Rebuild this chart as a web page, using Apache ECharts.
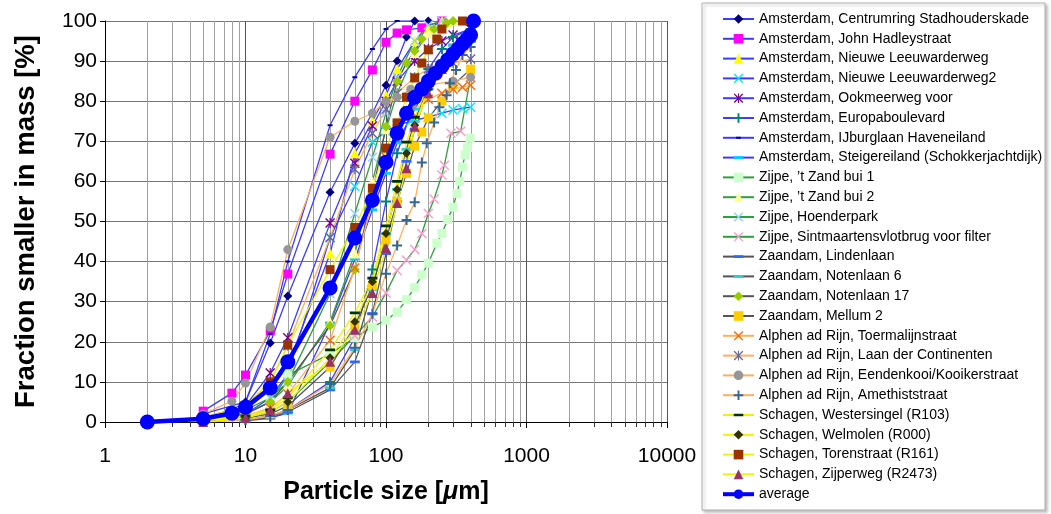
<!DOCTYPE html>
<html>
<head>
<meta charset="utf-8">
<script src="https://cdn.jsdelivr.net/npm/echarts@6/dist/echarts.min.js"></script>
<style>
  html, body { margin: 0; padding: 0; background: #fff; }
  #chart { width: 1051px; height: 514px; }
</style>
</head>
<body>
<div id="chart"></div>
<script>
// Cumulative particle size distributions: [particle size µm, fraction smaller in mass %]
const centrumring   = [[5,1],[8,3],[10,5],[15,19.7],[20,31.4],[40,57.3],[60,69.5],[80,77],[100,84],[120,90],[140,96],[160,100],[200,100]];
const johnHadley    = [[5,2.7],[8,7.2],[10,11.7],[15,22.7],[20,36.9],[40,66.8],[60,80],[80,87.8],[100,94.7],[120,97],[140,97.8],[180,98.3],[250,100]];
const nieuweLeeuw   = [[5,1],[10,3],[15,8],[20,14],[40,42],[60,67],[80,75],[100,81.5],[120,88],[160,95],[200,98],[250,100]];
const nieuweLeeuw2  = [[5,0.5],[10,2],[15,6],[20,12],[40,46],[60,58.8],[80,69.8],[100,72.5],[120,74],[150,75],[200,76],[250,77],[300,77.8],[350,78.2],[400,78.5]];
const ookmeerweg    = [[5,1],[10,4],[15,12.2],[20,21],[40,49.6],[60,64.5],[80,73.8],[100,80],[120,85],[160,90],[200,93],[250,95],[300,96.5],[400,98]];
const europaboul    = [[10,0.5],[15,1.2],[20,3],[40,10],[60,21],[80,38],[100,55],[120,67],[160,80],[200,88],[250,93],[300,96],[400,98]];
const ijburglaan    = [[5,2],[10,5],[15,22],[20,40],[40,74],[60,86],[80,93],[100,98],[120,100],[160,100]];
const steigereiland = [[10,0.5],[15,1],[20,2.2],[40,24.7],[60,40.6],[80,52.9],[100,62],[120,69.6],[160,78],[200,84],[250,88],[300,92],[400,95]];
const zandBui1      = [[5,0.5],[10,2],[15,5],[20,11.7],[40,17],[60,21],[80,23.7],[100,25.4],[120,27.4],[140,30.5],[160,33.5],[180,36.7],[200,39.6],[230,44.6],[250,47],[275,50.5],[300,53.6],[320,57],[335,60],[350,63.6],[365,66.6],[380,68.5],[397,70.8]];
const zandBui2      = [[5,0.5],[10,2],[15,5],[20,9],[40,25],[60,42],[80,60],[100,73],[120,82],[160,92],[200,97],[250,99],[300,100]];
const hoenderpark   = [[5,1],[10,3],[15,6],[20,10],[40,32],[60,52],[80,66],[100,77],[120,86],[160,95],[200,99],[250,100]];
const sintmaartens  = [[5,0.3],[10,1],[15,2.5],[20,5],[40,15],[60,21.5],[80,26.2],[100,32.2],[120,37.8],[140,40.4],[160,43],[180,47],[200,52],[220,55.6],[250,61.6],[260,64],[290,72],[340,72.5],[400,86]];
const lindenlaan    = [[10,0.3],[15,1],[20,2.5],[40,8],[60,15],[80,27],[100,42],[120,55],[140,65],[160,73],[200,83],[250,90],[300,94],[400,97]];
const notenlaan6    = [[10,0.5],[15,1.5],[20,3],[40,8.5],[60,18],[80,33],[100,47],[120,58],[140,68],[160,75],[200,84],[250,90],[300,94],[400,97]];
const notenlaan17   = [[5,0.5],[10,2],[15,5],[20,10],[40,24],[60,38],[80,57],[100,73.7],[120,85],[140,89.5],[160,92.5],[180,95.5],[220,98],[270,99.5],[300,100]];
const mellum2       = [[5,0.3],[10,1],[15,2],[20,4],[40,13.7],[60,24],[80,34],[100,45.4],[120,55],[140,62],[160,68.8],[180,72.3],[200,75.8],[250,80],[300,84],[400,88]];
const toermalijn    = [[5,0.5],[10,1.5],[15,3.5],[20,7],[40,20.4],[60,38.4],[80,55],[100,66],[120,73],[150,77.5],[200,80.5],[250,82],[300,83],[350,83.5],[400,84]];
const laanContinent = [[5,1],[10,4],[15,10],[20,19],[40,46],[60,63],[80,72],[100,78],[120,82],[160,86],[200,88],[300,89.5],[400,90.5]];
const eendenkooi    = [[5,2],[8,5.2],[10,9.7],[15,23.7],[20,43],[40,71],[60,75],[80,77],[100,80],[120,81],[150,83],[200,84],[300,85],[400,86]];
const amethist      = [[5,0],[10,0.5],[15,1.5],[20,3],[40,9.5],[60,18.5],[80,27],[100,37],[120,44],[140,50.4],[160,54.8],[180,64.7],[195,69.5],[220,74.7],[240,78.5],[270,81.5],[285,84.5],[315,87.8],[350,91.5],[400,93.5]];
const westersingel  = [[5,0.5],[10,1.5],[15,3],[20,6],[40,18],[60,27.2],[80,35.9],[100,48.9],[120,60],[140,69.8],[160,76],[200,84],[250,89],[300,92],[400,95]];
const welmolen      = [[5,0.5],[10,1],[15,2.5],[20,5],[40,16],[60,25],[80,35],[100,47],[120,58],[140,67],[160,74],[200,83],[250,88],[300,92],[400,96]];
const torenstraat   = [[5,1],[10,4],[15,10],[20,19.2],[40,38],[60,48.5],[80,58.3],[100,68.3],[120,74.6],[140,81],[160,85.8],[180,89.5],[200,92.8],[230,95.5],[250,98],[350,100]];
const zijperweg     = [[5,0],[10,1],[15,3],[20,7.2],[40,15],[60,23],[80,32.2],[100,43.4],[120,54.6],[140,63.3],[160,73.6],[200,82],[250,88],[300,92],[400,96]];
const average       = [[2,0],[5,0.8],[8,2.2],[10,3.7],[15,8.5],[20,15],[40,33.4],[60,45.9],[80,55.3],[100,64.8],[120,72],[140,77],[160,81],[180,83],[200,85],[225,87],[250,88.7],[275,90.3],[300,91.8],[325,93],[350,94.3],[375,95.4],[400,96.5],[420,100]];

const xTickLabels = ['1', '10', '100', '1000', '10000'];
const yTickStep = 10;

// Marker shapes; the dash shapes carry hairline corner specks so their
// bounding box stays square and the bar keeps its flat proportions.
const SYM = {
  diamond: 'diamond',
  square: 'rect',
  triangle: 'triangle',
  circle: 'circle',
  cross: 'path://M1,0L5,4L9,0L10,1L6,5L10,9L9,10L5,6L1,10L0,9L4,5L0,1Z',
  star: 'path://M1,0L5,4L9,0L10,1L6,5L10,9L9,10L5,6L1,10L0,9L4,5L0,1ZM4.4,0H5.6V10H4.4Z',
  plus: 'path://M4,0H6V4H10V6H6V10H4V6H0V4H4Z',
  dash: 'path://M0,0H0.01V0.01H0ZM0,3.6H10V6.4H0ZM9.99,9.99H10V10H9.99Z',
  tinyDash: 'path://M0,0H0.01V0.01H0ZM2.5,4H7.5V6H2.5ZM9.99,9.99H10V10H9.99Z'
};

const BLUE = '#3c3cff', GREEN = '#2f9e3f', GREY = '#555555', ORANGE = '#ffae5e', YELLOW = '#f2f200';

const seriesDefs = [
  ['Amsterdam, Centrumring Stadhouderskade', centrumring, SYM.diamond, 9, '#000080', BLUE],
  ['Amsterdam, John Hadleystraat', johnHadley, SYM.square, 9, '#ff00ff', BLUE],
  ['Amsterdam, Nieuwe Leeuwarderweg', nieuweLeeuw, SYM.triangle, 10, '#ffff00', BLUE],
  ['Amsterdam, Nieuwe Leeuwarderweg2', nieuweLeeuw2, SYM.cross, 10, '#00e5ff', BLUE],
  ['Amsterdam, Ookmeerweg voor', ookmeerweg, SYM.star, 10, '#800080', BLUE],
  ['Amsterdam, Europaboulevard', europaboul, SYM.plus, 10, '#008080', BLUE],
  ['Amsterdam, IJburglaan Haveneiland', ijburglaan, SYM.tinyDash, 10, '#000099', BLUE],
  ['Amsterdam, Steigereiland (Schokkerjachtdijk)', steigereiland, SYM.dash, 10, '#00ccff', BLUE],
  ['Zijpe, \u2019t Zand bui 1', zandBui1, SYM.square, 9, '#ccffcc', GREEN],
  ['Zijpe, \u2019t Zand bui 2', zandBui2, SYM.triangle, 10, '#ffff99', GREEN],
  ['Zijpe, Hoenderpark', hoenderpark, SYM.cross, 10, '#99ccff', GREEN],
  ['Zijpe, Sintmaartensvlotbrug voor filter', sintmaartens, SYM.cross, 10, '#ff99cc', GREEN],
  ['Zaandam, Lindenlaan', lindenlaan, SYM.dash, 10, '#3366ff', GREY],
  ['Zaandam, Notenlaan 6', notenlaan6, SYM.dash, 10, '#33cccc', GREY],
  ['Zaandam, Notenlaan 17', notenlaan17, SYM.diamond, 10, '#99cc00', GREY],
  ['Zaandam, Mellum 2', mellum2, SYM.square, 9, '#ffcc00', GREY],
  ['Alphen ad Rijn, Toermalijnstraat', toermalijn, SYM.cross, 10, '#ff6600', ORANGE],
  ['Alphen ad Rijn, Laan der Continenten', laanContinent, SYM.star, 10, '#666699', ORANGE],
  ['Alphen ad Rijn, Eendenkooi/Kooikerstraat', eendenkooi, SYM.circle, 9, '#969696', ORANGE],
  ['Alphen ad Rijn, Amethiststraat', amethist, SYM.plus, 10, '#336699', ORANGE],
  ['Schagen, Westersingel (R103)', westersingel, SYM.dash, 10, '#003300', YELLOW],
  ['Schagen, Welmolen (R000)', welmolen, SYM.diamond, 9, '#333300', YELLOW],
  ['Schagen, Torenstraat (R161)', torenstraat, SYM.square, 9, '#993300', YELLOW],
  ['Schagen, Zijperweg (R2473)', zijperweg, SYM.triangle, 10, '#993366', YELLOW],
  ['average', average, SYM.circle, 15, '#0000ff', '#0000ff']
];

// Log-scale minor positions 2..9 within each decade, for grid lines and ticks
const minorPositions = [];
for (let d = 1; d < 10000; d *= 10) {
  for (let m = 2; m <= 9; m++) minorPositions.push([m * d, 0]);
}

const FONT = '"Liberation Sans", Arial, Helvetica, sans-serif';

const series = [{
  type: 'custom',
  name: 'minor-grid',
  silent: true,
  z: 1,
  clip: false,
  data: minorPositions,
  renderItem: function (params, api) {
    const v = api.value(0);
    const top = api.coord([v, 100]);
    const bot = api.coord([v, 0]);
    const x = Math.round(bot[0]) + 0.5;
    return {
      type: 'group',
      children: [
        { type: 'line', shape: { x1: x, y1: top[1], x2: x, y2: bot[1] }, style: { stroke: '#a0a0a0', lineWidth: 1 } },
        { type: 'line', shape: { x1: x, y1: bot[1], x2: x, y2: bot[1] + 5 }, style: { stroke: '#333', lineWidth: 1 } }
      ]
    };
  }
}];

seriesDefs.forEach(function (d) {
  const isAvg = d[0] === 'average';
  series.push({
    type: 'line',
    name: d[0],
    data: d[1],
    symbol: d[2],
    symbolSize: d[3],
    showAllSymbol: true,
    smooth: false,
    z: isAvg ? 5 : 3,
    itemStyle: { color: d[4], borderWidth: 0 },
    lineStyle: { color: d[5], width: isAvg ? 4.5 : 1.3 },
    emphasis: { disabled: true },
    animation: false
  });
});

const legendData = seriesDefs.map(function (d) {
  return d[0] === 'average'
    ? { name: d[0], lineStyle: { width: 4 } }
    : { name: d[0] };
});

const chart = echarts.init(document.getElementById('chart'), null, { renderer: 'canvas' });
chart.setOption({
  animation: false,
  backgroundColor: '#ffffff',
  textStyle: { fontFamily: FONT },
  grid: { left: 105, right: 384, top: 21, bottom: 92, containLabel: false },
  graphic: [{
    type: 'rect',
    shape: { x: 702, y: 3, width: 343, height: 507 },
    style: { fill: '#fff', stroke: '#b0b0b0', lineWidth: 1, shadowBlur: 3, shadowOffsetX: 2, shadowOffsetY: 2, shadowColor: 'rgba(0,0,0,0.25)' },
    z: -1,
    silent: true
  }],
  legend: {
    orient: 'vertical',
    left: 721,
    top: 12,
    itemWidth: 31,
    itemHeight: 12,
    itemGap: 5.8,
    padding: 0,
    selectedMode: false,
    data: legendData,
    textStyle: { fontFamily: FONT, fontSize: 14, color: '#000' }
  },
  xAxis: {
    type: 'log',
    logBase: 10,
    min: 1,
    max: 10000,
    name: 'Particle size [{i|\u03bc}m]',
    nameLocation: 'middle',
    nameGap: 58,
    nameTextStyle: {
      fontFamily: FONT, fontSize: 25, fontWeight: 'bold', color: '#000',
      rich: { i: { fontFamily: FONT, fontSize: 25, fontWeight: 'bold', fontStyle: 'italic', color: '#000' } }
    },
    axisLine: { onZero: false, lineStyle: { color: '#000', width: 1 } },
    axisTick: { show: true, inside: false, length: 6, lineStyle: { color: '#000' } },
    axisLabel: {
      fontFamily: FONT, fontSize: 21, color: '#000', margin: 24,
      formatter: function (v) {
        const idx = Math.round(Math.log10(v));
        return xTickLabels[idx] !== undefined ? xTickLabels[idx] : '';
      }
    },
    splitLine: { show: true, lineStyle: { color: '#555', width: 1 } }
  },
  yAxis: {
    type: 'value',
    min: 0,
    max: 100,
    interval: yTickStep,
    name: 'Fraction smaller in mass [%]',
    nameLocation: 'middle',
    nameGap: 65,
    nameTextStyle: { fontFamily: FONT, fontSize: 27.5, fontWeight: 'bold', color: '#000' },
    axisLine: { show: true, lineStyle: { color: '#000', width: 1 } },
    axisTick: { show: true, inside: false, length: 5, lineStyle: { color: '#000' } },
    axisLabel: { fontFamily: FONT, fontSize: 21, color: '#000', margin: 8 },
    splitLine: { show: true, lineStyle: { color: '#777', width: 1 } }
  },
  series: series
});
</script>
</body>
</html>
